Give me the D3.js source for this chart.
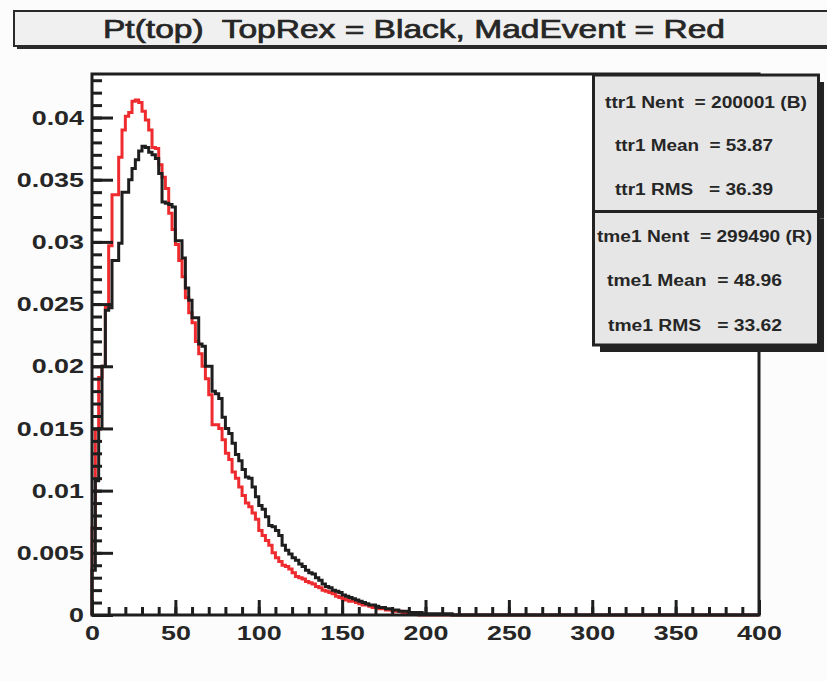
<!DOCTYPE html>
<html><head><meta charset="utf-8">
<script src="https://cdn.jsdelivr.net/npm/d3@7"></script>
<style>
html,body{margin:0;padding:0;background:#fcfcfc;}
svg{display:block;}
text{font-family:"Liberation Sans",Arial,Helvetica,sans-serif;font-weight:bold;fill:#262626;white-space:pre;}
</style></head>
<body>
<script>
// ---------- data ----------
const titleText = "Pt(top)  TopRex = Black, MadEvent = Red";
const binWidth = 2;           // GeV per bin (200 bins over 0-400)
const xTicks = [0,50,100,150,200,250,300,350,400];
const xTickLabels = ["0","50","100","150","200","250","300","350","400"];
const yTicks = [0,0.005,0.01,0.015,0.02,0.025,0.03,0.035,0.04];
const yTickLabels = ["0","0.005","0.01","0.015","0.02","0.025","0.03","0.035","0.04"];
// TopRex (black) bin contents, bins of width 2 starting at 0
const topRex = [
0.0036,0.0108,0.0150,0.0200,0.0245,0.0247,0.0285,0.0285,0.0299,0.0340,
0.0340,0.0350,0.0359,0.0366,0.0373,0.0377,0.0376,0.0372,0.0370,0.0367,
0.0355,0.0332,0.0331,0.0330,0.0328,0.0301,0.0301,0.0287,0.0263,0.0253,
0.0239,0.0239,0.0218,0.0216,0.0200,0.0200,0.0180,0.0178,0.0174,0.0159,
0.0150,0.0146,0.0138,0.0129,0.0124,0.0117,0.0111,0.0110,0.0103,0.0095,
0.0088,0.0085,0.0079,0.0072,0.0071,0.0068,0.0064,0.0056,0.0052,0.0049,
0.0046,0.0044,0.0041,0.0039,0.0036,0.0034,0.0033,0.0030,0.0028,0.0025,
0.0023,0.0022,0.0020,0.0019,0.0018,0.0016,0.0015,0.0014,0.0013,0.0012,
0.0011,0.0010,0.0009,0.0008,0.0008,0.0007,0.0006,0.0006,0.0005,0.0005,
0.0004,0.0004,0.0003,0.0003,0.0003,0.0002,0.0002,0.0002,0.0002,0.0001,
0.0001,0.0001,0.0001,0.0001,0.0001,0.0001,0.0001,0.0001];
// MadEvent (red) bin contents
const madEvent = [
0.0070,0.0149,0.0191,0.0200,0.0248,0.0297,0.0338,0.0338,0.0368,0.0390,
0.0401,0.0404,0.0413,0.0414,0.0412,0.0405,0.0398,0.0390,0.0376,0.0375,
0.0362,0.0352,0.0343,0.0323,0.0310,0.0298,0.0285,0.0272,0.0255,0.0243,
0.0235,0.0220,0.0210,0.0200,0.0190,0.0177,0.0153,0.0153,0.0150,0.0141,
0.0130,0.0125,0.0115,0.0110,0.0103,0.0096,0.0090,0.0087,0.0082,0.0077,
0.0068,0.0064,0.0060,0.0056,0.0050,0.0046,0.0043,0.0040,0.0039,0.0037,
0.0034,0.0031,0.0030,0.0029,0.0027,0.0026,0.0025,0.0023,0.0022,0.0020,
0.0019,0.0018,0.0017,0.0015,0.0014,0.0013,0.0012,0.0011,0.0011,0.0010,
0.0009,0.0008,0.0008,0.0007,0.0006,0.0006,0.0005,0.0005,0.0004,0.0004,
0.0003,0.0003,0.0003,0.0002,0.0002,0.0001,0.0001,0.0001];
const stats1 = ["ttr1 Nent  = 200001 (B)","ttr1 Mean  = 53.87","ttr1 RMS   = 36.39"];
const stats2 = ["tme1 Nent  = 299490 (R)","tme1 Mean  = 48.96","tme1 RMS   = 33.62"];

// ---------- layout ----------
const W = 827, H = 681;
const fx0 = 92, fx1 = 759, fy0 = 74, fy1 = 615;
const svg = d3.select("body").append("svg").attr("width", W).attr("height", H);
svg.append("rect").attr("width", W).attr("height", H).attr("fill", "#fcfcfc");

const x = d3.scaleLinear().domain([0, 400]).range([fx0, fx1]);
const y = d3.scaleLinear().domain([0, 0.0435]).range([fy1, fy0]);

function stretch(sel, f) {
  sel.each(function () {
    const w = this.getComputedTextLength();
    d3.select(this).attr("textLength", w * f).attr("lengthAdjust", "spacingAndGlyphs");
  });
}

// title
svg.append("rect").attr("x", 17).attr("y", 14).attr("width", 830).attr("height", 35).attr("fill", "#2a2a2a");
svg.append("rect").attr("x", 14).attr("y", 11).attr("width", 830).attr("height", 35)
  .attr("fill", "#f0f0f0").attr("stroke", "#2a2a2a").attr("stroke-width", 2);
svg.append("text").attr("x", 414).attr("y", 38).attr("text-anchor", "middle")
  .style("font-size", "25px").style("font-weight", "normal")
  .attr("stroke", "#262626").attr("stroke-width", 0.7)
  .attr("textLength", 622).attr("lengthAdjust", "spacingAndGlyphs").text(titleText);

// frame background
svg.append("rect").attr("x", fx0).attr("y", fy0).attr("width", fx1 - fx0).attr("height", fy1 - fy0).attr("fill", "#ffffff");

// histograms
function stepPoints(vals) {
  const pts = [[x(0), y(0)]];
  vals.forEach((v, i) => {
    pts.push([x(i * binWidth), y(v)]);
    pts.push([x((i + 1) * binWidth), y(v)]);
  });
  pts.push([x(vals.length * binWidth), y(0)]);
  pts.push([x(400), y(0)]);
  return pts;
}
const line = d3.line();
svg.append("path").attr("d", line(stepPoints(madEvent))).attr("fill", "none")
  .attr("stroke", "#ee2b2e").attr("stroke-width", 3).attr("stroke-linejoin", "miter");
svg.append("path").attr("d", line(stepPoints(topRex))).attr("fill", "none")
  .attr("stroke", "#1e1e1e").attr("stroke-width", 3).attr("stroke-linejoin", "miter");

// axes
const yMinor = d3.range(0, 0.0431, 0.001);
const xMinor = d3.range(0, 401, 10);
const gy = svg.append("g").attr("transform", `translate(${fx0},0)`);
gy.append("g").call(d3.axisLeft(y).tickValues(yMinor).tickSizeInner(-10).tickSizeOuter(0).tickFormat(""));
gy.append("g").call(d3.axisLeft(y).tickValues(yTicks).tickSizeInner(-21).tickSizeOuter(0).tickPadding(8)
  .tickFormat((d, i) => yTickLabels[i]));
const gx = svg.append("g").attr("transform", `translate(0,${fy1})`);
gx.append("g").call(d3.axisBottom(x).tickValues(xMinor).tickSizeInner(-8).tickSizeOuter(0).tickFormat(""));
gx.append("g").call(d3.axisBottom(x).tickValues(xTicks).tickSizeInner(-15).tickSizeOuter(0).tickPadding(10)
  .tickFormat((d, i) => xTickLabels[i]));
svg.selectAll(".domain").remove();
svg.selectAll(".tick line").attr("stroke", "#1e1e1e").attr("stroke-width", 3);
svg.selectAll(".tick text").style("font-size", "21px").style("font-family", null).attr("fill", "#262626");
stretch(svg.selectAll(".tick text"), 1.28);

// frame
svg.append("rect").attr("x", fx0).attr("y", fy0).attr("width", fx1 - fx0).attr("height", fy1 - fy0)
  .attr("fill", "none").attr("stroke", "#1e1e1e").attr("stroke-width", 3);

// stats boxes
function statBox(y0, h, lines, layout) {
  svg.append("rect").attr("x", 600).attr("y", y0 + 7).attr("width", 224).attr("height", h).attr("fill", "#222");
  svg.append("rect").attr("x", 593.5).attr("y", y0).attr("width", 225).attr("height", h)
    .attr("fill", "#e6e6e6").attr("stroke", "#222").attr("stroke-width", 3);
  lines.forEach((t, i) => {
    svg.append("text").attr("x", layout[i][0]).attr("y", layout[i][1])
      .attr("textLength", layout[i][2]).attr("lengthAdjust", "spacingAndGlyphs")
      .style("font-size", "16px").text(t);
  });
}
statBox(75, 136.5, stats1, [[605, 108, 202], [615, 151, 158], [615, 195, 158]]);
statBox(211.5, 133.5, stats2, [[597, 242, 215], [607, 286, 175], [608, 331, 174]]);
</script>
</body></html>
